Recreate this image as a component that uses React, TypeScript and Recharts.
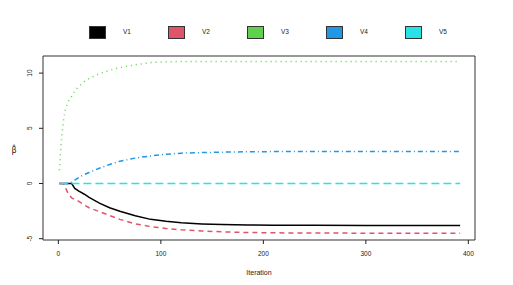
import { LineChart, Line, XAxis, YAxis, ReferenceArea, Legend } from "recharts";

const iterations = [1, 3, 5, 7, 10, 13, 16, 20, 25, 30, 40, 50, 60, 75, 90, 105, 120, 140, 160, 185, 210, 250, 300, 350, 392];
const v1 = [0, 0, 0, 0, 0, 0, -0.45, -0.7, -0.95, -1.25, -1.78, -2.2, -2.52, -2.93, -3.25, -3.43, -3.56, -3.66, -3.72, -3.76, -3.78, -3.79, -3.8, -3.8, -3.8];
const v2 = [0, 0, -0.05, -0.4, -1.0, -1.3, -1.45, -1.62, -1.95, -2.2, -2.55, -2.9, -3.25, -3.66, -3.9, -4.08, -4.2, -4.31, -4.38, -4.44, -4.47, -4.49, -4.5, -4.5, -4.5];
const v3 = [1.2, 4.0, 5.7, 6.8, 7.5, 7.9, 8.4, 8.8, 9.2, 9.5, 9.95, 10.25, 10.5, 10.75, 10.95, 11.02, 11.05, 11.05, 11.05, 11.05, 11.05, 11.05, 11.05, 11.05, 11.05];
const v4 = [0, 0, 0, 0, 0, 0.1, 0.3, 0.55, 0.8, 1.0, 1.38, 1.72, 2.02, 2.3, 2.5, 2.65, 2.75, 2.8, 2.84, 2.87, 2.89, 2.9, 2.9, 2.9, 2.9];
const v5 = [0, 0, 0, 0, 0, 0, 0, 0, 0, 0, 0, 0, 0, 0, 0, 0, 0, 0, 0, 0, 0, 0, 0, 0, 0];

const xTicks = [0, 100, 200, 300, 400];
const yTicks = [-5, 0, 5, 10];

const SERIES = [
  { key: "V1", color: "#000000", dash: undefined },
  { key: "V2", color: "#DF536B", dash: "5 4" },
  { key: "V3", color: "#61D04F", dash: "1 4" },
  { key: "V4", color: "#2297E6", dash: "1 3 5 3" },
  { key: "V5", color: "#28E2E5", dash: "8 4" },
];

const data = iterations.map((it, i) => ({
  it,
  V1: v1[i],
  V2: v2[i],
  V3: v3[i],
  V4: v4[i],
  V5: v5[i],
}));

const FONT = "Liberation Sans, Arial, sans-serif";
const TEXT = "#222";

function YTick(props: any) {
  const { y, payload } = props;
  return (
    <g transform={`translate(32,${y})`}>
      <text transform="rotate(-90)" textAnchor="middle" fontSize={6.5} fontFamily={FONT} fill={TEXT}>
        {payload.value}
      </text>
    </g>
  );
}

function XTick(props: any) {
  const { x, payload } = props;
  return (
    <text x={x} y={256} textAnchor="middle" fontSize={6.5} fontFamily={FONT} fill={TEXT}>
      {payload.value}
    </text>
  );
}

// legend is absolutely placed so it does not push the plot area down
function LegendBox() {
  return (
    <div style={{ position: "relative", height: 0, width: 513 }}>
      {SERIES.map((s, i) => (
        <div key={s.key}>
          <div
            style={{
              position: "absolute",
              left: 89 + i * 79,
              top: 0,
              width: 15,
              height: 11,
              background: s.color,
              border: "1px solid #333",
            }}
          />
          <div
            style={{
              position: "absolute",
              left: 123 + i * 79,
              top: 2,
              fontSize: 6.5,
              fontFamily: FONT,
              color: TEXT,
              lineHeight: "8px",
            }}
          >
            {s.key}
          </div>
        </div>
      ))}
    </div>
  );
}

export default function App() {
  return (
    <div style={{ position: "absolute", left: 0, top: 0, width: 513, height: 285, background: "#fff" }}>
      <LineChart width={513} height={285} data={data} margin={{ top: 56, right: 38, bottom: 0, left: 0 }}>
        <XAxis
          dataKey="it"
          type="number"
          domain={[-15, 406.5]}
          ticks={xTicks}
          axisLine={false}
          tickLine={{ stroke: "#222" }}
          tickSize={4}
          height={45}
          tick={<XTick />}
          label={{ value: "Iteration", position: "insideBottom", offset: 10, fontSize: 7, fontFamily: FONT, fill: TEXT }}
          allowDataOverflow
        />
        <YAxis
          type="number"
          domain={[-5.12, 11.55]}
          ticks={yTicks}
          axisLine={false}
          tickLine={{ stroke: "#222" }}
          tickSize={4}
          width={43}
          tick={<YTick />}
          allowDataOverflow
        />
        <ReferenceArea x1={-15} x2={406.5} y1={-5.12} y2={11.55} fill="none" stroke="#333" strokeWidth={1} ifOverflow="visible" />
        <Legend verticalAlign="top" wrapperStyle={{ top: 26, left: 0, height: 0 }} content={() => <LegendBox />} />
        {SERIES.map((s) => (
          <Line
            key={s.key}
            dataKey={s.key}
            type="linear"
            stroke={s.color}
            strokeWidth={1.5}
            strokeDasharray={s.dash}
            dot={false}
            isAnimationActive={false}
          />
        ))}
        <text x={14} y={153} textAnchor="middle" fontSize={8} fontFamily="DejaVu Sans, sans-serif" fill={TEXT}>
          {"\u03B2\u0302"}
        </text>
      </LineChart>
    </div>
  );
}
